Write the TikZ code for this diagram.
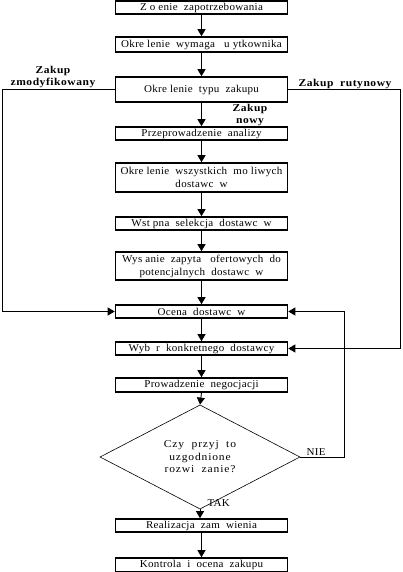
\documentclass[tikz,border=0pt]{standalone}
\usepackage{fontspec}
\setmainfont{Liberation Serif}
\newfontfamily\boxfont[FakeStretch=1.05,LetterSpace=3]{Liberation Serif}
\newfontfamily\askfont[FakeStretch=1.1,LetterSpace=8]{Liberation Serif}
\newfontfamily\branchfont[FakeStretch=1.1,LetterSpace=5]{Liberation Serif}
\usetikzlibrary{arrows.meta,shapes.geometric}

\begin{document}
\begin{tikzpicture}[x=1pt,y=-1pt,>={Triangle[length=7pt,width=8pt]},
  stepbox/.style={draw,line width=1.6pt,minimum width=172pt,inner sep=0pt,align=center,font=\boxfont\fontsize{10.5}{13}\selectfont},
  branchlabel/.style={font=\branchfont\bfseries\fontsize{10.5}{12.5}\selectfont,align=center},
  link/.style={->,line width=0.9pt}]
  \useasboundingbox (0,0) rectangle (402,572);
  % main column of steps
  \node[stepbox,minimum height=13pt] (b1) at (201.5,7.5) {Z o enie \ zapotrzebowania};
  \node[stepbox,minimum height=15pt] (b2) at (201.5,44.5) {Okre lenie \ wymaga \ \ u ytkownika};
  \node[stepbox,minimum height=25pt] (b3) at (201.5,89.5) {Okre lenie \ typu \ zakupu};
  \node[stepbox,minimum height=13pt] (b4) at (201.5,133.5) {Przeprowadzenie \ analizy};
  \node[stepbox,minimum height=29pt] (b5) at (201.5,177.5) {Okre lenie \ wszystkich \ mo liwych\\dostawc \ w};
  \node[stepbox,minimum height=13pt] (b6) at (201.5,223.5) {Wst pna \ selekcja \ dostawc \ w};
  \node[stepbox,minimum height=28pt] (b7) at (201.5,266) {Wys anie \ zapyta \ \ ofertowych \ do\\potencjalnych \ dostawc \ w};
  \node[stepbox,minimum height=13pt] (b8) at (201.5,311.5) {Ocena \ dostawc \ w};
  \node[stepbox,minimum height=13pt] (b9) at (201.5,348.5) {Wyb \ r \ konkretnego \ dostawcy};
  \node[stepbox,minimum height=14pt] (b10) at (201.5,385) {Prowadzenie \ negocjacji};
  \node[diamond,draw,line width=0.6pt,minimum width=200pt,minimum height=74pt,inner sep=0pt,align=center,font=\askfont\fontsize{10.5}{12.5}\selectfont] (dec) at (200,457) {Czy \ przyj \ to\\uzgodnione\\rozwi \ zanie?};
  \node[stepbox,minimum height=13pt] (b11) at (201.5,525.5) {Realizacja \ zam \ wienia};
  \node[stepbox,minimum height=14pt] (b12) at (201.5,565) {Kontrola \ i \ ocena \ zakupu};
  % rails of the side loops
  \coordinate (leftrail) at (2,0);
  \coordinate (rightrail) at (400,0);
  \coordinate (nierail) at (344,0);
  % labels
  \node[branchlabel] (lzm) at (53,77) {Zakup\\zmodyfikowany};
  \node[branchlabel] (lrut) at (345,84) {Zakup \ rutynowy};
  \node[branchlabel] (lnowy) at (250,115) {Zakup\\nowy};
  \node[font=\boxfont\fontsize{10.5}{12}\selectfont,anchor=west] (ltak) at (204,503) {TAK};
  \node[font=\boxfont\fontsize{10.5}{12}\selectfont] (lnie) at (316,452) {NIE};
  % connectors
  \draw[link] (b1) -- (b2);
  \draw[link] (b2) -- (b3);
  \draw[link] (b3) -- (b4);
  \draw[link] (b4) -- (b5);
  \draw[link] (b5) -- (b6);
  \draw[link] (b6) -- (b7);
  \draw[link] (b7) -- (b8);
  \draw[link] (b8) -- (b9);
  \draw[link] (b9) -- (b10);
  \draw[link] (b10.south) -- (dec.north);
  \draw[link] (dec.south) -- (b11.north -| dec.south);
  \draw[link] (b11) -- (b12);
  \draw[link] (b3.west) -| (leftrail |- b8.west) -- (b8.west);
  \draw[link] (b3.east) -| (rightrail |- b9.east) -- (b9.east);
  \draw[link] (dec.east) -| (nierail |- b8.east) -- (b8.east);
\end{tikzpicture}
\end{document}
